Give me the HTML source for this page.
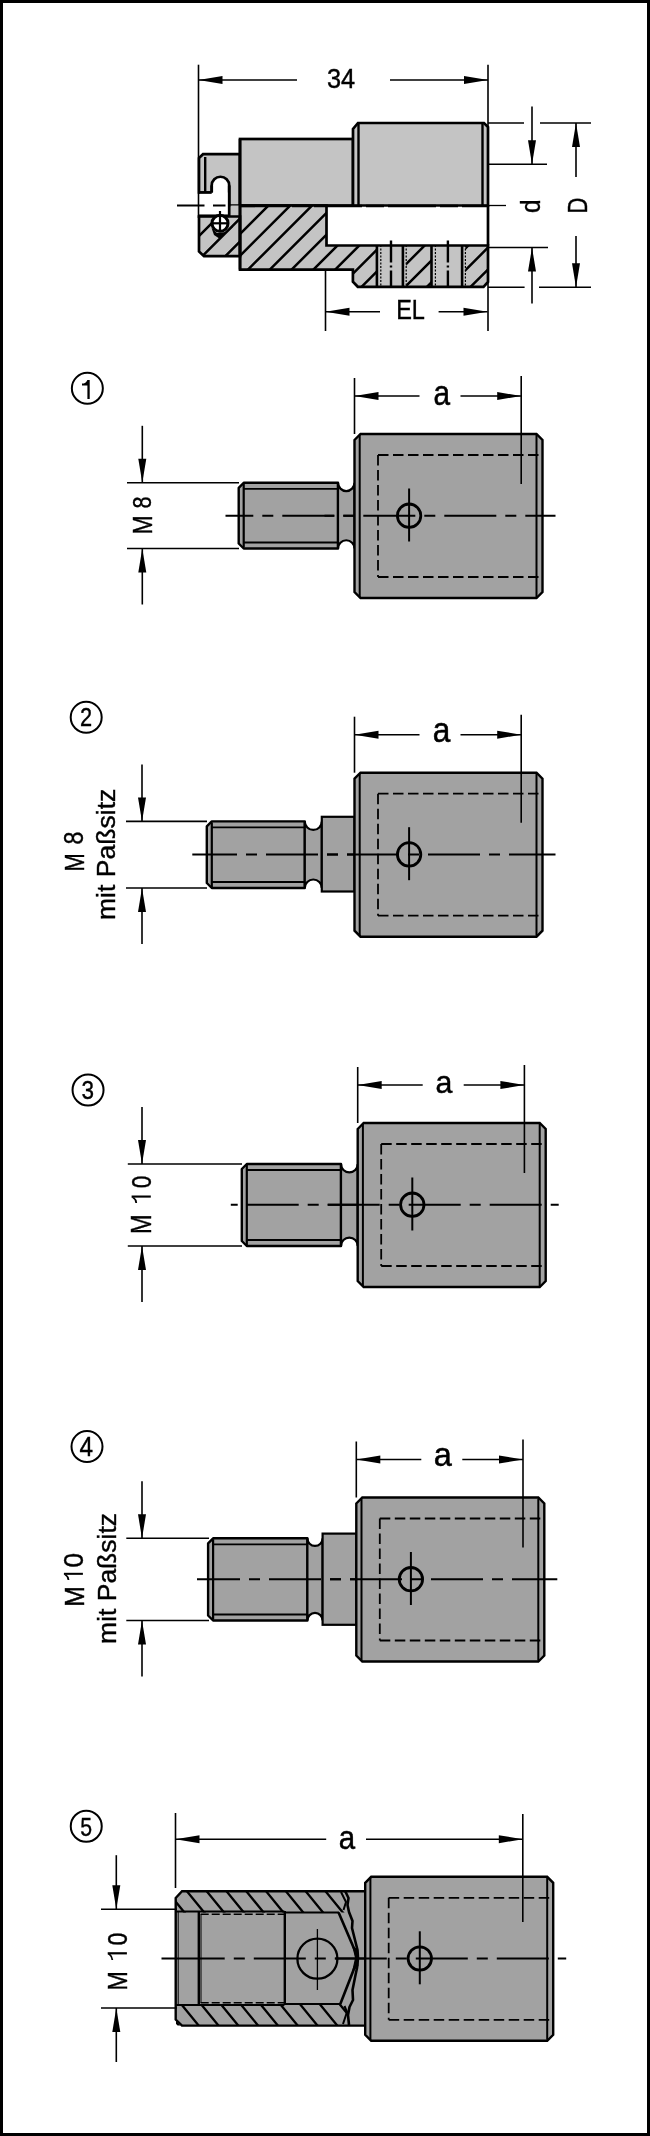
<!DOCTYPE html>
<html><head><meta charset="utf-8"><style>
html,body{margin:0;padding:0;background:#fff;}
svg{display:block;will-change:transform;}
text{font-family:"Liberation Sans",sans-serif;fill:#000;stroke:#000;stroke-width:1.5px;}
</style></head><body>
<svg width="650" height="2136" viewBox="0 0 650 2136">
<rect x="0" y="0" width="650" height="3" fill="#000"/>
<rect x="0" y="0" width="3" height="2136" fill="#000"/>
<rect x="647" y="0" width="3" height="2136" fill="#000"/>
<rect x="0" y="2133" width="650" height="3" fill="#000"/>
<path d="M199,192.5 L199,158 L203,154.2 L240,154.2 L240,205.5 L229.2,205.5 L229.2,185.5 A8.75,8.75 0 0 0 211.7,185.5 L211.7,192.5 Z" fill="#c4c4c4" stroke="#000" stroke-width="2.7"/>
<line x1="205.2" y1="157.0" x2="205.2" y2="192.5" stroke="#000" stroke-width="2.40" />
<rect x="240" y="139" width="113" height="66.5" fill="#c4c4c4" stroke="#000" stroke-width="2.7"/>
<path d="M353,205.5 L353,129 L358,123 L484,123 L488,127 L488,205.5 Z" fill="#c4c4c4" stroke="#000" stroke-width="2.7"/>
<line x1="358.5" y1="123.0" x2="358.5" y2="205.5" stroke="#000" stroke-width="2.40" />
<line x1="482.5" y1="123.0" x2="482.5" y2="205.5" stroke="#000" stroke-width="2.40" />
<clipPath id="secclip"><path d="M240,205.5 L326.5,205.5 L326.5,245.5 L488,245.5 L488,282 L483.5,286.8 L357.8,286.8 L352.9,281.8 L352.9,269.6 L240,269.6 Z"/><rect x="229" y="205.5" width="11" height="12"/></clipPath>
<clipPath id="noseclip"><path d="M199,216.5 L240,216.5 L240,256.2 L204,256.2 L199,251.5 Z"/><rect x="229" y="205.5" width="11" height="12"/></clipPath>
<path d="M240,205.5 L326.5,205.5 L326.5,245.5 L488,245.5 L488,282 L483.5,286.8 L357.8,286.8 L352.9,281.8 L352.9,269.6 L240,269.6 Z" fill="#c4c4c4"/>
<path d="M199,216.5 L240,216.5 L240,256.2 L204,256.2 L199,251.5 Z" fill="#c4c4c4"/>
<rect x="229.2" y="205.5" width="10.8" height="11.0" fill="#c4c4c4"/>
<g clip-path="url(#secclip)"><path d="M174.0,300 L374.0,100 M195.8,300 L395.8,100 M217.6,300 L417.6,100 M239.4,300 L439.4,100 M261.2,300 L461.2,100 M283.0,300 L483.0,100 M304.8,300 L504.8,100 M326.6,300 L526.6,100 M348.4,300 L548.4,100 M370.2,300 L570.2,100 M392.0,300 L592.0,100 M413.8,300 L613.8,100 M435.6,300 L635.6,100 M457.4,300 L657.4,100 M479.2,300 L679.2,100 M501.0,300 L701.0,100 M522.8,300 L722.8,100 M544.6,300 L744.6,100 M566.4,300 L766.4,100 M588.2,300 L788.2,100" stroke="#000" stroke-width="2.5" fill="none"/></g>
<g clip-path="url(#noseclip)"><path d="M135.0,300 L335.0,100 M158.5,300 L358.5,100 M181.5,300 L381.5,100" stroke="#000" stroke-width="2.5" fill="none"/></g>
<rect x="376.9" y="245.5" width="29.3" height="41.3" fill="#c4c4c4"/>
<line x1="376.9" y1="245.0" x2="376.9" y2="287.0" stroke="#000" stroke-width="2.60" />
<line x1="402.9" y1="245.0" x2="402.9" y2="287.0" stroke="#000" stroke-width="2.60" />
<line x1="380.8" y1="245.0" x2="380.8" y2="287.0" stroke="#000" stroke-width="1.20" stroke-dasharray="2 1.5"/>
<line x1="406.2" y1="245.0" x2="406.2" y2="287.0" stroke="#000" stroke-width="1.20" stroke-dasharray="2 1.5"/>
<line x1="391.0" y1="240.4" x2="391.0" y2="287.0" stroke="#000" stroke-width="2.40" stroke-dasharray="22 3 2 3"/>
<rect x="431.5" y="245.5" width="33.9" height="41.3" fill="#c4c4c4"/>
<line x1="431.5" y1="245.0" x2="431.5" y2="287.0" stroke="#000" stroke-width="2.60" />
<line x1="462.1" y1="245.0" x2="462.1" y2="287.0" stroke="#000" stroke-width="2.60" />
<line x1="435.4" y1="245.0" x2="435.4" y2="287.0" stroke="#000" stroke-width="1.20" stroke-dasharray="2 1.5"/>
<line x1="465.4" y1="245.0" x2="465.4" y2="287.0" stroke="#000" stroke-width="1.20" stroke-dasharray="2 1.5"/>
<line x1="447.9" y1="240.4" x2="447.9" y2="287.0" stroke="#000" stroke-width="2.40" stroke-dasharray="22 3 2 3"/>
<path d="M240,205.5 L326.5,205.5 L326.5,245.5 L488,245.5 L488,282 L483.5,286.8 L357.8,286.8 L352.9,281.8 L352.9,269.6 L240,269.6 Z" fill="none" stroke="#000" stroke-width="2.7"/>
<path d="M199,216.5 L240,216.5 L240,256.2 L204,256.2 L199,251.5 Z" fill="none" stroke="#000" stroke-width="2.7"/>
<line x1="240.0" y1="139.0" x2="240.0" y2="269.6" stroke="#000" stroke-width="2.70" />
<path d="M200,192.5 L229.2,192.5 L229.2,216.5 L200,216.5 Z" fill="#fff"/>
<line x1="211.7" y1="192.5" x2="211.7" y2="185.5" stroke="#000" stroke-width="2.70" />
<line x1="229.2" y1="185.5" x2="229.2" y2="216.5" stroke="#000" stroke-width="2.70" />
<line x1="198.0" y1="192.5" x2="211.7" y2="192.5" stroke="#000" stroke-width="2.70" />
<line x1="198.0" y1="215.8" x2="229.2" y2="215.8" stroke="#000" stroke-width="2.70" />
<path d="M211.5,228 L217,233 L226,232 L232.5,226 L233,227 L220,239 L214,235 Z" fill="#000"/>
<circle cx="220" cy="223.3" r="8" fill="#fff" stroke="#000" stroke-width="3"/>
<line x1="220.0" y1="211.0" x2="220.0" y2="232.0" stroke="#000" stroke-width="2.20" />
<line x1="212.0" y1="223.3" x2="228.0" y2="223.3" stroke="#000" stroke-width="2.20" />
<line x1="240.0" y1="206.0" x2="488.0" y2="206.0" stroke="#000" stroke-width="2.70" stroke-dasharray="48 4 18 4"/>
<line x1="488.0" y1="205.5" x2="488.0" y2="245.5" stroke="#000" stroke-width="2.70" />
<line x1="177.0" y1="205.5" x2="204.5" y2="205.5" stroke="#000" stroke-width="2.00" />
<line x1="213.0" y1="205.5" x2="225.5" y2="205.5" stroke="#000" stroke-width="2.00" />
<line x1="488.0" y1="205.5" x2="506.0" y2="205.5" stroke="#000" stroke-width="1.30" />
<line x1="198.5" y1="64.7" x2="198.5" y2="218.0" stroke="#000" stroke-width="1.60" />
<line x1="488.0" y1="64.7" x2="488.0" y2="331.0" stroke="#000" stroke-width="1.60" />
<line x1="198.5" y1="80.0" x2="297.0" y2="80.0" stroke="#000" stroke-width="1.60" />
<polygon points="198.5,80.0 222.5,76.0 222.5,84.0" fill="#000"/>
<line x1="390.0" y1="80.0" x2="488.0" y2="80.0" stroke="#000" stroke-width="1.60" />
<polygon points="488.0,80.0 464.0,76.0 464.0,84.0" fill="#000"/>
<text font-size="100" transform="translate(326.90 88.33) scale(0.2532 0.2746)">34</text>
<line x1="488.0" y1="164.2" x2="547.0" y2="164.2" stroke="#000" stroke-width="1.60" />
<line x1="488.0" y1="247.5" x2="548.0" y2="247.5" stroke="#000" stroke-width="1.60" />
<line x1="532.0" y1="106.5" x2="532.0" y2="164.2" stroke="#000" stroke-width="1.60" />
<polygon points="532.0,164.2 528.0,140.2 536.0,140.2" fill="#000"/>
<line x1="532.0" y1="247.5" x2="532.0" y2="303.5" stroke="#000" stroke-width="1.60" />
<polygon points="532.0,247.5 528.0,271.5 536.0,271.5" fill="#000"/>
<text font-size="100" transform="translate(540.33 213.10) rotate(-90) scale(0.2432 0.2680)">d</text>
<line x1="488.0" y1="123.0" x2="524.0" y2="123.0" stroke="#000" stroke-width="1.60" />
<line x1="540.0" y1="123.0" x2="591.0" y2="123.0" stroke="#000" stroke-width="1.60" />
<line x1="488.0" y1="287.2" x2="524.6" y2="287.2" stroke="#000" stroke-width="1.60" />
<line x1="539.0" y1="287.2" x2="591.0" y2="287.2" stroke="#000" stroke-width="1.60" />
<line x1="576.0" y1="123.0" x2="576.0" y2="177.0" stroke="#000" stroke-width="1.60" />
<polygon points="576.0,123.0 572.0,147.0 580.0,147.0" fill="#000"/>
<line x1="576.0" y1="236.0" x2="576.0" y2="287.2" stroke="#000" stroke-width="1.60" />
<polygon points="576.0,287.2 572.0,263.2 580.0,263.2" fill="#000"/>
<text font-size="100" transform="translate(587.00 213.40) rotate(-90) scale(0.2194 0.2768)">D</text>
<line x1="325.5" y1="269.6" x2="325.5" y2="331.0" stroke="#000" stroke-width="1.60" />
<line x1="325.5" y1="311.8" x2="380.0" y2="311.8" stroke="#000" stroke-width="1.60" />
<polygon points="325.5,311.8 349.5,307.8 349.5,315.8" fill="#000"/>
<line x1="438.6" y1="311.8" x2="487.5" y2="311.8" stroke="#000" stroke-width="1.60" />
<polygon points="487.5,311.8 463.5,307.8 463.5,315.8" fill="#000"/>
<text font-size="100" transform="translate(396.20 318.80) scale(0.2351 0.2783)">EL</text>
<circle cx="87.35" cy="388.35" r="15.5" fill="none" stroke="#000" stroke-width="2"/>
<path d="M87.4,379.9 L89.7,379.9 L89.7,398.9 L87.4,398.9 L87.4,385.6 L82,385.6 L82,383.6 Q86,383.4 87.4,379.9 Z" fill="#000"/>
<path d="M238.7,487.8 L243.7,482.8 L338.0,482.8 L338.0,548.5 L243.7,548.5 L238.7,543.5 Z" fill="#a2a2a2" stroke="#000" stroke-width="2.4" stroke-linejoin="round"/>
<line x1="243.7" y1="483.8" x2="243.7" y2="547.5" stroke="#000" stroke-width="2.20" />
<line x1="243.7" y1="488.8" x2="338.0" y2="488.8" stroke="#000" stroke-width="1.80" />
<line x1="243.7" y1="542.5" x2="338.0" y2="542.5" stroke="#000" stroke-width="1.80" />
<path d="M338.0,482.8 A8.2,8.2 0 0 0 354.5,482.8 L354.5,548.5 A8.2,8.2 0 0 0 338.0,548.5 Z" fill="#a2a2a2" stroke="#000" stroke-width="2.2"/>
<path d="M354.5,440.0 L360.5,434.0 L536.5,434.0 L542.5,440.0 L542.5,592.0 L536.5,598.0 L360.5,598.0 L354.5,592.0 Z" fill="#a2a2a2" stroke="#000" stroke-width="2.4"/>
<line x1="359.7" y1="435.0" x2="359.7" y2="597.0" stroke="#000" stroke-width="2.00" />
<line x1="536.5" y1="435.0" x2="536.5" y2="597.0" stroke="#000" stroke-width="2.00" />
<line x1="378.0" y1="455.0" x2="542.5" y2="455.0" stroke="#000" stroke-width="1.80" stroke-dasharray="10.5 4.5"/>
<line x1="378.0" y1="577.0" x2="542.5" y2="577.0" stroke="#000" stroke-width="1.80" stroke-dasharray="10.5 4.5"/>
<line x1="378.0" y1="455.0" x2="378.0" y2="577.0" stroke="#000" stroke-width="1.80" stroke-dasharray="10.5 4.5"/>
<circle cx="409.1" cy="515.7" r="11.7" fill="none" stroke="#000" stroke-width="2.8"/>
<line x1="409.1" y1="488.5" x2="409.1" y2="541.5" stroke="#000" stroke-width="2.00" />
<line x1="324.5" y1="515.7" x2="555.5" y2="515.7" stroke="#000" stroke-width="2.00" stroke-dasharray="52 9 11 9" stroke-dashoffset="42.2"/>
<line x1="354.5" y1="378.0" x2="354.5" y2="434.0" stroke="#000" stroke-width="1.60" />
<line x1="521.2" y1="376.0" x2="521.2" y2="484.0" stroke="#000" stroke-width="1.60" />
<line x1="354.5" y1="396.0" x2="419.5" y2="396.0" stroke="#000" stroke-width="1.60" />
<polygon points="354.5,396.0 378.5,392.0 378.5,400.0" fill="#000"/>
<line x1="460.5" y1="396.0" x2="521.2" y2="396.0" stroke="#000" stroke-width="1.60" />
<polygon points="521.2,396.0 497.2,392.0 497.2,400.0" fill="#000"/>
<line x1="225.5" y1="515.8" x2="354.5" y2="515.8" stroke="#000" stroke-width="2.00" stroke-dasharray="52 9 11 9" stroke-dashoffset="24.2"/>
<line x1="127.0" y1="482.8" x2="239.0" y2="482.8" stroke="#000" stroke-width="1.60" />
<line x1="127.0" y1="548.5" x2="239.0" y2="548.5" stroke="#000" stroke-width="1.60" />
<line x1="142.3" y1="425.8" x2="142.3" y2="482.8" stroke="#000" stroke-width="1.60" />
<polygon points="142.3,482.8 138.3,458.8 146.3,458.8" fill="#000"/>
<line x1="142.3" y1="548.5" x2="142.3" y2="604.5" stroke="#000" stroke-width="1.60" />
<polygon points="142.3,548.5 138.3,572.5 146.3,572.5" fill="#000"/>
<text font-size="100" transform="translate(433.50 405.15) scale(0.2982 0.3527)">a</text>
<text font-size="100" transform="translate(151.50 534.60) rotate(-90) scale(0.2299 0.2783)">M</text>
<text font-size="100" transform="translate(151.24 508.50) rotate(-90) scale(0.2162 0.2648)">8</text>
<circle cx="86.20" cy="717.35" r="15.5" fill="none" stroke="#000" stroke-width="2"/>
<text font-size="100" transform="translate(79.90 726.20) scale(0.2180 0.2671)">2</text>
<path d="M206.8,826.4 L211.8,821.4 L304.8,821.4 L304.8,888.0 L211.8,888.0 L206.8,883.0 Z" fill="#a2a2a2" stroke="#000" stroke-width="2.4" stroke-linejoin="round"/>
<line x1="211.8" y1="822.4" x2="211.8" y2="887.0" stroke="#000" stroke-width="2.20" />
<line x1="211.8" y1="827.4" x2="304.8" y2="827.4" stroke="#000" stroke-width="1.80" />
<line x1="211.8" y1="882.0" x2="304.8" y2="882.0" stroke="#000" stroke-width="1.80" />
<path d="M304.8,821.4 A8.5,8.5 0 0 0 321.8,821.4 L321.8,888.0 A8.5,8.5 0 0 0 304.8,888.0 Z" fill="#a2a2a2" stroke="#000" stroke-width="2.2"/>
<rect x="321.8" y="816.8" width="32.7" height="74.7" fill="#a2a2a2" stroke="#000" stroke-width="2.2"/>
<path d="M354.5,778.7 L360.5,772.7 L536.5,772.7 L542.5,778.7 L542.5,930.7 L536.5,936.7 L360.5,936.7 L354.5,930.7 Z" fill="#a2a2a2" stroke="#000" stroke-width="2.4"/>
<line x1="359.7" y1="773.7" x2="359.7" y2="935.7" stroke="#000" stroke-width="2.00" />
<line x1="536.5" y1="773.7" x2="536.5" y2="935.7" stroke="#000" stroke-width="2.00" />
<line x1="378.0" y1="793.7" x2="542.5" y2="793.7" stroke="#000" stroke-width="1.80" stroke-dasharray="10.5 4.5"/>
<line x1="378.0" y1="915.7" x2="542.5" y2="915.7" stroke="#000" stroke-width="1.80" stroke-dasharray="10.5 4.5"/>
<line x1="378.0" y1="793.7" x2="378.0" y2="915.7" stroke="#000" stroke-width="1.80" stroke-dasharray="10.5 4.5"/>
<circle cx="409.1" cy="854.4" r="11.7" fill="none" stroke="#000" stroke-width="2.8"/>
<line x1="409.1" y1="827.2" x2="409.1" y2="880.2" stroke="#000" stroke-width="2.00" />
<line x1="324.5" y1="854.4" x2="555.5" y2="854.4" stroke="#000" stroke-width="2.00" stroke-dasharray="52 9 11 9" stroke-dashoffset="58.5"/>
<line x1="354.5" y1="716.7" x2="354.5" y2="772.7" stroke="#000" stroke-width="1.60" />
<line x1="521.2" y1="714.7" x2="521.2" y2="822.7" stroke="#000" stroke-width="1.60" />
<line x1="354.5" y1="734.7" x2="419.5" y2="734.7" stroke="#000" stroke-width="1.60" />
<polygon points="354.5,734.7 378.5,730.7 378.5,738.7" fill="#000"/>
<line x1="460.5" y1="734.7" x2="521.2" y2="734.7" stroke="#000" stroke-width="1.60" />
<polygon points="521.2,734.7 497.2,730.7 497.2,738.7" fill="#000"/>
<line x1="192.3" y1="854.5" x2="354.5" y2="854.5" stroke="#000" stroke-width="2.00" stroke-dasharray="52 9 11 9" stroke-dashoffset="7.3"/>
<line x1="126.0" y1="821.4" x2="207.0" y2="821.4" stroke="#000" stroke-width="1.60" />
<line x1="126.0" y1="888.0" x2="207.0" y2="888.0" stroke="#000" stroke-width="1.60" />
<line x1="142.0" y1="764.4" x2="142.0" y2="821.4" stroke="#000" stroke-width="1.60" />
<polygon points="142.0,821.4 138.0,797.4 146.0,797.4" fill="#000"/>
<line x1="142.0" y1="888.0" x2="142.0" y2="944.0" stroke="#000" stroke-width="1.60" />
<polygon points="142.0,888.0 138.0,912.0 146.0,912.0" fill="#000"/>
<text font-size="100" transform="translate(432.70 742.15) scale(0.3161 0.3545)">a</text>
<text font-size="100" transform="translate(83.50 871.50) rotate(-90) scale(0.2192 0.2826)">M</text>
<text font-size="100" transform="translate(83.22 844.60) rotate(-90) scale(0.2324 0.2803)">8</text>
<text font-size="100" transform="translate(115.04 920.00) rotate(-90) scale(0.2657 0.2558)">mit Paßsitz</text>
<circle cx="88.05" cy="1090.00" r="15.5" fill="none" stroke="#000" stroke-width="2"/>
<text font-size="100" transform="translate(81.60 1098.94) scale(0.2252 0.2634)">3</text>
<path d="M241.8,1169.0 L246.8,1164.0 L341.0,1164.0 L341.0,1246.0 L246.8,1246.0 L241.8,1241.0 Z" fill="#a2a2a2" stroke="#000" stroke-width="2.4" stroke-linejoin="round"/>
<line x1="246.8" y1="1165.0" x2="246.8" y2="1245.0" stroke="#000" stroke-width="2.20" />
<line x1="246.8" y1="1170.0" x2="341.0" y2="1170.0" stroke="#000" stroke-width="1.80" />
<line x1="246.8" y1="1240.0" x2="341.0" y2="1240.0" stroke="#000" stroke-width="1.80" />
<path d="M341.0,1164.0 A8.3,8.3 0 0 0 357.7,1164.0 L357.7,1246.0 A8.3,8.3 0 0 0 341.0,1246.0 Z" fill="#a2a2a2" stroke="#000" stroke-width="2.2"/>
<path d="M357.7,1129.0 L363.7,1123.0 L539.7,1123.0 L545.7,1129.0 L545.7,1281.0 L539.7,1287.0 L363.7,1287.0 L357.7,1281.0 Z" fill="#a2a2a2" stroke="#000" stroke-width="2.4"/>
<line x1="362.9" y1="1124.0" x2="362.9" y2="1286.0" stroke="#000" stroke-width="2.00" />
<line x1="539.7" y1="1124.0" x2="539.7" y2="1286.0" stroke="#000" stroke-width="2.00" />
<line x1="381.2" y1="1144.0" x2="545.7" y2="1144.0" stroke="#000" stroke-width="1.80" stroke-dasharray="10.5 4.5"/>
<line x1="381.2" y1="1266.0" x2="545.7" y2="1266.0" stroke="#000" stroke-width="1.80" stroke-dasharray="10.5 4.5"/>
<line x1="381.2" y1="1144.0" x2="381.2" y2="1266.0" stroke="#000" stroke-width="1.80" stroke-dasharray="10.5 4.5"/>
<circle cx="412.3" cy="1204.7" r="11.7" fill="none" stroke="#000" stroke-width="2.8"/>
<line x1="412.3" y1="1177.5" x2="412.3" y2="1230.5" stroke="#000" stroke-width="2.00" />
<line x1="327.7" y1="1204.7" x2="558.7" y2="1204.7" stroke="#000" stroke-width="2.00" stroke-dasharray="52 9 11 9" stroke-dashoffset="0.0"/>
<line x1="357.7" y1="1067.0" x2="357.7" y2="1123.0" stroke="#000" stroke-width="1.60" />
<line x1="524.4" y1="1065.0" x2="524.4" y2="1173.0" stroke="#000" stroke-width="1.60" />
<line x1="357.7" y1="1085.0" x2="422.7" y2="1085.0" stroke="#000" stroke-width="1.60" />
<polygon points="357.7,1085.0 381.7,1081.0 381.7,1089.0" fill="#000"/>
<line x1="463.7" y1="1085.0" x2="524.4" y2="1085.0" stroke="#000" stroke-width="1.60" />
<polygon points="524.4,1085.0 500.4,1081.0 500.4,1089.0" fill="#000"/>
<line x1="230.8" y1="1204.8" x2="357.7" y2="1204.8" stroke="#000" stroke-width="2.00" stroke-dasharray="52 9 11 9" stroke-dashoffset="65.1"/>
<line x1="127.8" y1="1164.0" x2="242.0" y2="1164.0" stroke="#000" stroke-width="1.60" />
<line x1="127.8" y1="1246.0" x2="242.0" y2="1246.0" stroke="#000" stroke-width="1.60" />
<line x1="142.0" y1="1107.0" x2="142.0" y2="1164.0" stroke="#000" stroke-width="1.60" />
<polygon points="142.0,1164.0 138.0,1140.0 146.0,1140.0" fill="#000"/>
<line x1="142.0" y1="1246.0" x2="142.0" y2="1302.0" stroke="#000" stroke-width="1.60" />
<polygon points="142.0,1246.0 138.0,1270.0 146.0,1270.0" fill="#000"/>
<text font-size="100" transform="translate(435.50 1093.28) scale(0.3036 0.3200)">a</text>
<text font-size="100" transform="translate(151.20 1233.90) rotate(-90) scale(0.2359 0.2870)">M</text>
<text font-size="100" transform="translate(150.92 1188.20) rotate(-90) scale(0.2252 0.2789)">0</text>
<path d="M131.60,1197.63 L131.60,1195.50 L150.80,1195.50 L150.80,1197.63 Z" fill="#000"/>
<path d="M131.60,1197.32 Q134.93,1199.35 135.34,1203.00 L137.16,1203.00 Q136.75,1199.15 134.23,1197.32 Z" fill="#000"/>
<circle cx="87.00" cy="1446.60" r="15.5" fill="none" stroke="#000" stroke-width="2"/>
<text font-size="100" transform="translate(79.50 1455.80) scale(0.2432 0.2710)">4</text>
<path d="M208.1,1543.3 L213.1,1538.3 L307.4,1538.3 L307.4,1620.5 L213.1,1620.5 L208.1,1615.5 Z" fill="#a2a2a2" stroke="#000" stroke-width="2.4" stroke-linejoin="round"/>
<line x1="213.1" y1="1539.3" x2="213.1" y2="1619.5" stroke="#000" stroke-width="2.20" />
<line x1="213.1" y1="1544.3" x2="307.4" y2="1544.3" stroke="#000" stroke-width="1.80" />
<line x1="213.1" y1="1614.5" x2="307.4" y2="1614.5" stroke="#000" stroke-width="1.80" />
<path d="M307.4,1538.3 A7.6,7.6 0 0 0 322.6,1538.3 L322.6,1620.5 A7.6,7.6 0 0 0 307.4,1620.5 Z" fill="#a2a2a2" stroke="#000" stroke-width="2.2"/>
<rect x="322.6" y="1533.6" width="33.7" height="91.2" fill="#a2a2a2" stroke="#000" stroke-width="2.2"/>
<path d="M356.3,1503.5 L362.3,1497.5 L538.3,1497.5 L544.3,1503.5 L544.3,1655.5 L538.3,1661.5 L362.3,1661.5 L356.3,1655.5 Z" fill="#a2a2a2" stroke="#000" stroke-width="2.4"/>
<line x1="361.5" y1="1498.5" x2="361.5" y2="1660.5" stroke="#000" stroke-width="2.00" />
<line x1="538.3" y1="1498.5" x2="538.3" y2="1660.5" stroke="#000" stroke-width="2.00" />
<line x1="379.8" y1="1518.5" x2="544.3" y2="1518.5" stroke="#000" stroke-width="1.80" stroke-dasharray="10.5 4.5"/>
<line x1="379.8" y1="1640.5" x2="544.3" y2="1640.5" stroke="#000" stroke-width="1.80" stroke-dasharray="10.5 4.5"/>
<line x1="379.8" y1="1518.5" x2="379.8" y2="1640.5" stroke="#000" stroke-width="1.80" stroke-dasharray="10.5 4.5"/>
<circle cx="410.9" cy="1579.2" r="11.7" fill="none" stroke="#000" stroke-width="2.8"/>
<line x1="410.9" y1="1552.0" x2="410.9" y2="1605.0" stroke="#000" stroke-width="2.00" />
<line x1="326.3" y1="1579.2" x2="557.3" y2="1579.2" stroke="#000" stroke-width="2.00" stroke-dasharray="52 9 11 9" stroke-dashoffset="57.3"/>
<line x1="356.3" y1="1441.5" x2="356.3" y2="1497.5" stroke="#000" stroke-width="1.60" />
<line x1="523.0" y1="1439.5" x2="523.0" y2="1547.5" stroke="#000" stroke-width="1.60" />
<line x1="356.3" y1="1459.5" x2="421.3" y2="1459.5" stroke="#000" stroke-width="1.60" />
<polygon points="356.3,1459.5 380.3,1455.5 380.3,1463.5" fill="#000"/>
<line x1="462.3" y1="1459.5" x2="523.0" y2="1459.5" stroke="#000" stroke-width="1.60" />
<polygon points="523.0,1459.5 499.0,1455.5 499.0,1463.5" fill="#000"/>
<line x1="197.0" y1="1579.3" x2="356.3" y2="1579.3" stroke="#000" stroke-width="2.00" stroke-dasharray="52 9 11 9" stroke-dashoffset="9.0"/>
<line x1="126.3" y1="1538.3" x2="209.0" y2="1538.3" stroke="#000" stroke-width="1.60" />
<line x1="126.3" y1="1620.5" x2="209.0" y2="1620.5" stroke="#000" stroke-width="1.60" />
<line x1="142.0" y1="1481.3" x2="142.0" y2="1538.3" stroke="#000" stroke-width="1.60" />
<polygon points="142.0,1538.3 138.0,1514.3 146.0,1514.3" fill="#000"/>
<line x1="142.0" y1="1620.5" x2="142.0" y2="1676.5" stroke="#000" stroke-width="1.60" />
<polygon points="142.0,1620.5 138.0,1644.5 146.0,1644.5" fill="#000"/>
<text font-size="100" transform="translate(433.80 1466.37) scale(0.3250 0.3345)">a</text>
<text font-size="100" transform="translate(83.50 1606.80) rotate(-90) scale(0.2455 0.2826)">M</text>
<text font-size="100" transform="translate(83.22 1567.50) rotate(-90) scale(0.2631 0.2803)">0</text>
<path d="M63.90,1574.84 L63.90,1572.80 L82.90,1572.80 L82.90,1574.84 Z" fill="#000"/>
<path d="M63.90,1574.55 Q67.20,1576.50 67.60,1580.00 L69.40,1580.00 Q69.00,1576.30 66.50,1574.55 Z" fill="#000"/>
<text font-size="100" transform="translate(115.54 1643.90) rotate(-90) scale(0.2647 0.2626)">mit Paßsitz</text>
<circle cx="86.25" cy="1826.25" r="15.5" fill="none" stroke="#000" stroke-width="2"/>
<text font-size="100" transform="translate(80.20 1835.54) scale(0.2126 0.2614)">5</text>
<path d="M175.7,1898 L182,1891.2 L366,1891.2 L366,2025.6 L182,2025.6 L175.7,2019.5 Z" fill="#a2a2a2" stroke="#000" stroke-width="2.4"/>
<clipPath id="w5"><path d="M176,1891.2 L346,1891.2 L348,1900 L347.5,1910 L350,1912.5 L176,1912.5 Z"/><path d="M176,2004 L350,2004 L349.5,2010 L348,2025.6 L176,2025.6 Z"/></clipPath>
<g clip-path="url(#w5)"><path d="M162.0,1885 L186.5,1915 M158.0,2000 L182.5,2030 M181.8,1885 L206.3,1915 M177.8,2000 L202.3,2030 M201.6,1885 L226.1,1915 M197.6,2000 L222.1,2030 M221.4,1885 L245.9,1915 M217.4,2000 L241.9,2030 M241.2,1885 L265.7,1915 M237.2,2000 L261.7,2030 M261.0,1885 L285.5,1915 M257.0,2000 L281.5,2030 M280.8,1885 L305.3,1915 M276.8,2000 L301.3,2030 M300.6,1885 L325.1,1915 M296.6,2000 L321.1,2030 M320.4,1885 L344.9,1915 M316.4,2000 L340.9,2030 M340.2,1885 L364.7,1915 M336.2,2000 L360.7,2030 M360.0,1885 L384.5,1915 M356.0,2000 L380.5,2030 M379.8,1885 L404.3,1915 M375.8,2000 L400.3,2030" stroke="#000" stroke-width="2.3" fill="none"/></g>
<line x1="176.0" y1="1911.5" x2="284.4" y2="1911.5" stroke="#000" stroke-width="2.20" />
<line x1="176.0" y1="2005.0" x2="284.4" y2="2005.0" stroke="#000" stroke-width="2.20" />
<line x1="284.4" y1="1912.5" x2="339.0" y2="1912.5" stroke="#000" stroke-width="2.20" />
<line x1="284.4" y1="2004.0" x2="340.0" y2="2004.0" stroke="#000" stroke-width="2.20" />
<line x1="200.7" y1="1914.2" x2="284.4" y2="1914.2" stroke="#000" stroke-width="1.60" stroke-dasharray="8 3"/>
<line x1="200.7" y1="2002.8" x2="284.4" y2="2002.8" stroke="#000" stroke-width="1.60" stroke-dasharray="8 3"/>
<line x1="198.8" y1="1911.0" x2="198.8" y2="2005.0" stroke="#000" stroke-width="2.40" />
<line x1="201.0" y1="1914.0" x2="201.0" y2="2003.0" stroke="#000" stroke-width="1.00" />
<line x1="178.2" y1="1911.0" x2="178.2" y2="2005.0" stroke="#000" stroke-width="1.00" />
<line x1="284.8" y1="1911.0" x2="284.8" y2="2005.0" stroke="#000" stroke-width="2.40" />
<path d="M338.6,1912.5 L355.5,1952 L357,1958.5 L355.5,1965 L340.3,2004" fill="none" stroke="#000" stroke-width="2.6"/>
<path d="M345.4,1891.5 L348.5,1898 L347.5,1905 L349,1912 L352.5,1921 L352,1928 L355,1940 L357.5,1950 L358,1958 L357,1968 L355.5,1975 L352.5,1990 L353,2000 L349.5,2007 L348,2015 L349,2025" fill="none" stroke="#000" stroke-width="2.6" stroke-linejoin="round"/>
<path d="M341,1892 L346,1902 L343.5,1910" fill="none" stroke="#000" stroke-width="2" stroke-linejoin="round"/>
<path d="M343,2024 L347,2012 L344.5,2006" fill="none" stroke="#000" stroke-width="2" stroke-linejoin="round"/>
<path d="M352,1945 L358,1950 L358.5,1966 L352,1972 L355,1958 Z" fill="#000"/>
<circle cx="317.4" cy="1958.7" r="20" fill="none" stroke="#000" stroke-width="2.3"/>
<line x1="317.4" y1="1929.0" x2="317.4" y2="1990.0" stroke="#000" stroke-width="1.30" />
<path d="M365.2,1882.8 L371.2,1876.8 L547.2,1876.8 L553.2,1882.8 L553.2,2034.8 L547.2,2040.8 L371.2,2040.8 L365.2,2034.8 Z" fill="#a2a2a2" stroke="#000" stroke-width="2.4"/>
<line x1="370.4" y1="1877.8" x2="370.4" y2="2039.8" stroke="#000" stroke-width="2.00" />
<line x1="547.2" y1="1877.8" x2="547.2" y2="2039.8" stroke="#000" stroke-width="2.00" />
<line x1="388.7" y1="1897.8" x2="553.2" y2="1897.8" stroke="#000" stroke-width="1.80" stroke-dasharray="10.5 4.5"/>
<line x1="388.7" y1="2019.8" x2="553.2" y2="2019.8" stroke="#000" stroke-width="1.80" stroke-dasharray="10.5 4.5"/>
<line x1="388.7" y1="1897.8" x2="388.7" y2="2019.8" stroke="#000" stroke-width="1.80" stroke-dasharray="10.5 4.5"/>
<circle cx="419.8" cy="1958.5" r="11.7" fill="none" stroke="#000" stroke-width="2.8"/>
<line x1="419.8" y1="1931.3" x2="419.8" y2="1984.3" stroke="#000" stroke-width="2.00" />
<line x1="335.2" y1="1958.5" x2="566.2" y2="1958.5" stroke="#000" stroke-width="2.00" stroke-dasharray="52 9 11 9" stroke-dashoffset="0.4"/>
<line x1="161.5" y1="1958.5" x2="224.6" y2="1958.5" stroke="#000" stroke-width="2.00" />
<line x1="224.6" y1="1958.5" x2="365.2" y2="1958.5" stroke="#000" stroke-width="2.00" stroke-dasharray="52 9 11 9" stroke-dashoffset="51.8"/>
<line x1="175.5" y1="1813.0" x2="175.5" y2="1888.0" stroke="#000" stroke-width="1.60" />
<line x1="522.8" y1="1814.0" x2="522.8" y2="1922.0" stroke="#000" stroke-width="1.60" />
<line x1="175.5" y1="1839.2" x2="326.2" y2="1839.2" stroke="#000" stroke-width="1.60" />
<polygon points="175.5,1839.2 199.5,1835.2 199.5,1843.2" fill="#000"/>
<line x1="366.0" y1="1839.2" x2="522.8" y2="1839.2" stroke="#000" stroke-width="1.60" />
<polygon points="522.8,1839.2 498.8,1835.2 498.8,1843.2" fill="#000"/>
<text font-size="100" transform="translate(338.70 1849.16) scale(0.2946 0.3400)">a</text>
<line x1="101.0" y1="1909.2" x2="177.0" y2="1909.2" stroke="#000" stroke-width="1.60" />
<line x1="101.0" y1="2008.0" x2="177.0" y2="2008.0" stroke="#000" stroke-width="1.60" />
<line x1="116.3" y1="1855.2" x2="116.3" y2="1909.2" stroke="#000" stroke-width="1.60" />
<polygon points="116.3,1909.2 112.3,1885.2 120.3,1885.2" fill="#000"/>
<line x1="116.3" y1="2008.0" x2="116.3" y2="2062.0" stroke="#000" stroke-width="1.60" />
<polygon points="116.3,2008.0 112.3,2032.0 120.3,2032.0" fill="#000"/>
<text font-size="100" transform="translate(126.90 1990.60) rotate(-90) scale(0.2323 0.2812)">M</text>
<text font-size="100" transform="translate(126.63 1945.60) rotate(-90) scale(0.2306 0.2732)">0</text>
<path d="M107.70,1954.41 L107.70,1952.20 L126.90,1952.20 L126.90,1954.41 Z" fill="#000"/>
<path d="M107.70,1954.10 Q111.03,1956.21 111.44,1960.00 L113.26,1960.00 Q112.85,1955.99 110.33,1954.10 Z" fill="#000"/>
</svg></body></html>
